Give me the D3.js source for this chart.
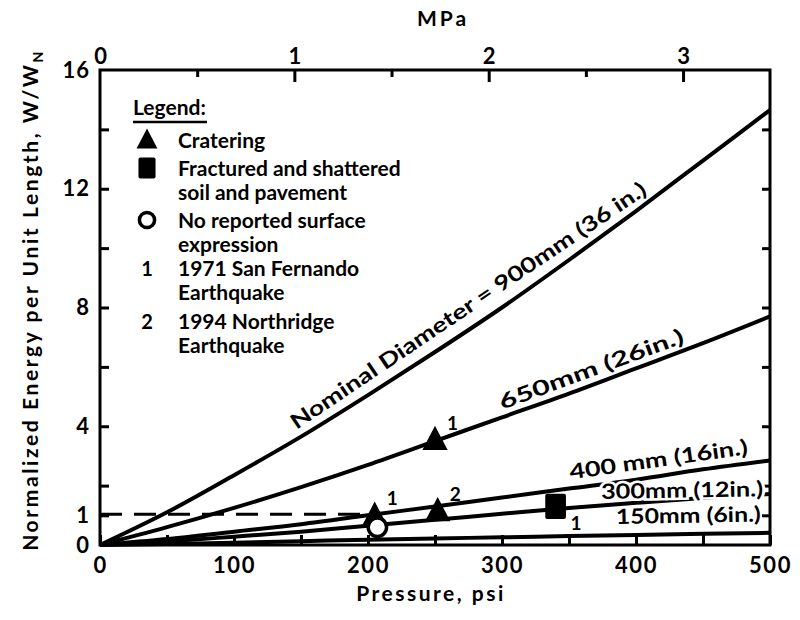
<!DOCTYPE html>
<html>
<head>
<meta charset="utf-8">
<script src="https://cdn.jsdelivr.net/npm/d3@7"></script>
<style>
  html, body { margin: 0; padding: 0; background: #fff; }
  svg text { font-family: "Lato", "DejaVu Sans", sans-serif; fill: #000; font-weight: 700; }
</style>
</head>
<body>
<svg id="chart" width="800" height="620"></svg>
<script>
// pressure samples (psi) shared by all curves
const psi = [0, 50, 100, 150, 200, 250, 300, 350, 400, 450, 500];

// normalized energy W/WN
const d900 = [0, 1.1, 2.35, 3.65, 5.05, 6.5, 8.0, 9.6, 11.25, 12.95, 14.65];
const d650 = [0, 0.6, 1.25, 1.95, 2.7, 3.5, 4.3, 5.1, 5.95, 6.8, 7.7];
const d400 = [0, 0.2, 0.45, 0.7, 1.0, 1.3, 1.6, 1.9, 2.2, 2.55, 2.85];
const d300 = [0, 0.12, 0.28, 0.45, 0.65, 0.85, 1.05, 1.25, 1.42, 1.58, 1.72];
const d150 = [0, 0.03, 0.08, 0.13, 0.18, 0.22, 0.26, 0.3, 0.34, 0.38, 0.41];

const curveLabels = [
  "Nominal Diameter = 900mm (36 in.)",
  "650mm (26in.)",
  "400 mm (16in.)",
  "300mm (12in.)",
  "150mm (6in.)"
];

// observed cases
const casePsi = [250, 205, 207, 252, 340];
const caseEnergy = [3.55, 1.0, 0.6, 1.15, 1.3];
const caseType = ["crater", "crater", "none", "crater", "fracture"];
const caseQuake = ["1", "1", "", "2", "1"];

const xTicks = [0, 100, 200, 300, 400, 500];
const xMinor = [50, 150, 250, 350, 450];
const yTicks = [0, 1, 4, 8, 12, 16];
const yMinor = [2, 6, 10, 14];
const mpaTicks = [0, 1, 2, 3];
const mpaMinor = [0.5, 1.5, 2.5];
const psiPerMPa = 145.038;
const dashedLevel = 1;
const dashedEnd = 200;

const legendItems = [
  { sym: "crater", lines: ["Cratering"] },
  { sym: "fracture", lines: ["Fractured and shattered", "soil and pavement"] },
  { sym: "none", lines: ["No reported surface", "expression"] },
  { sym: "1", lines: ["1971 San Fernando", "Earthquake"] },
  { sym: "2", lines: ["1994 Northridge", "Earthquake"] }
];

const svg = d3.select("#chart");
const x = d3.scaleLinear().domain([0, 500]).range([100, 770]);
const y = d3.scaleLinear().domain([0, 16]).range([545, 70]);
const xm = d3.scaleLinear().domain([0, 500 / psiPerMPa]).range([100, 770]);

const series = [d900, d650, d400, d300, d150].map((vals, i) => ({
  label: curveLabels[i],
  pts: psi.map((p, j) => [p, vals[j]])
}));

function valueAt(pts, p) {
  for (let i = 1; i < pts.length; i++) {
    if (p <= pts[i][0]) {
      const t = (p - pts[i - 1][0]) / (pts[i][0] - pts[i - 1][0]);
      return pts[i - 1][1] + t * (pts[i][1] - pts[i - 1][1]);
    }
  }
  return pts[pts.length - 1][1];
}

// frame
svg.append("rect").attr("x", x(0)).attr("y", y(16)).attr("width", x(500) - x(0)).attr("height", y(0) - y(16))
  .attr("fill", "none").attr("stroke", "#000").attr("stroke-width", 3);

// bottom axis
const axBottom = svg.append("g").attr("transform", `translate(0,${y(0)})`)
  .call(d3.axisBottom(x).tickValues(xTicks.concat(xMinor)).tickSizeInner(-10).tickSizeOuter(0).tickPadding(12)
    .tickFormat((d) => (xTicks.includes(d) ? d : "")));
axBottom.select(".domain").remove();
axBottom.selectAll("line").attr("stroke-width", 3);
axBottom.selectAll("text").attr("font-size", 22).attr("letter-spacing", 1.5).attr("font-family", "Lato").attr("font-weight", 700);

// left axis
const axLeft = svg.append("g").attr("transform", `translate(${x(0)},0)`)
  .call(d3.axisLeft(y).tickValues(yTicks.concat(yMinor)).tickSizeInner(-9).tickSizeOuter(0).tickPadding(10)
    .tickFormat((d) => (yTicks.includes(d) ? d : "")));
axLeft.select(".domain").remove();
axLeft.selectAll("line").attr("stroke-width", 3);
axLeft.selectAll(".tick").filter((d) => d === 0 || d === 16).select("line").remove();
axLeft.selectAll("text").attr("font-size", 22).attr("letter-spacing", 1).attr("font-family", "Lato").attr("font-weight", 700);

// right axis ticks
const axRight = svg.append("g").attr("transform", `translate(${x(500)},0)`)
  .call(d3.axisRight(y).tickValues([1, 2, 4, 6, 8, 10, 12, 14]).tickSizeInner(-8).tickSizeOuter(0).tickFormat(""));
axRight.select(".domain").remove();
axRight.selectAll("line").attr("stroke-width", 3);

// top axis (MPa)
const axTop = svg.append("g").attr("transform", `translate(0,${y(16)})`)
  .call(d3.axisTop(xm).tickValues(mpaTicks.concat(mpaMinor)).tickSizeInner(-12).tickSizeOuter(0).tickPadding(6)
    .tickFormat((d) => (mpaTicks.includes(d) ? d : "")));
axTop.select(".domain").remove();
axTop.selectAll("line").attr("stroke-width", 3);
axTop.selectAll(".tick").filter((d) => mpaMinor.includes(d)).select("line").attr("y2", 7);
axTop.selectAll(".tick").filter((d) => d === 0).select("line").remove();
axTop.selectAll("text").attr("font-size", 22).attr("font-family", "Lato").attr("font-weight", 700);

// axis titles
svg.append("text").attr("x", 443).attr("y", 26).attr("text-anchor", "middle")
  .attr("font-size", 21).attr("letter-spacing", 3).text("MPa");
svg.append("text").attr("x", 431).attr("y", 601).attr("text-anchor", "middle")
  .attr("font-size", 21).attr("letter-spacing", 2.5).text("Pressure, psi");
const yt = svg.append("text").attr("transform", "translate(38,300) rotate(-90)")
  .attr("text-anchor", "middle").attr("font-size", 21).attr("letter-spacing", 2.6);
yt.append("tspan").text("Normalized Energy per Unit Length, W/W");
yt.append("tspan").attr("font-size", 14).attr("dy", 5).text("N");

// dashed reference line
svg.append("line").attr("x1", x(0)).attr("x2", x(dashedEnd)).attr("y1", y(dashedLevel) - 1).attr("y2", y(dashedLevel) - 1)
  .attr("stroke", "#000").attr("stroke-width", 3).attr("stroke-dasharray", "22 12");

// curves
const line = d3.line().x((d) => x(d[0])).y((d) => y(d[1])).curve(d3.curveMonotoneX);
svg.append("g").selectAll("path").data(series).join("path")
  .attr("d", (d) => line(d.pts)).attr("fill", "none").attr("stroke", "#000").attr("stroke-width", 4);

// curve labels
const labelSpec = [
  { from: 150, to: 400, off: 8, len: 424 },
  { from: 302, to: 440, off: 7, len: 195 },
  { from: 352, to: 485, off: 9, len: 180 },
  { from: 374, to: 494, off: 0, len: 162, flat: true },
  { from: 385, to: 495, off: 0, len: 145, flat: true }
];
const fixedBase = { 3: 499, 4: 524 };
series.forEach((s, i) => {
  const sp = labelSpec[i];
  const x0 = x(sp.from), x1 = x(sp.to);
  let y0 = y(valueAt(s.pts, sp.from)), y1 = y(valueAt(s.pts, sp.to));
  let ang = Math.atan2(y1 - y0, x1 - x0) * 180 / Math.PI;
  if (sp.flat) { ang = -1; y0 = fixedBase[i]; }
  const t = svg.append("text")
    .attr("transform", `translate(${x0},${y0}) rotate(${ang}) translate(0,${-sp.off})`)
    .attr("font-size", 21)
    .attr("textLength", sp.len).attr("lengthAdjust", "spacingAndGlyphs")
    .text(s.label);
  if (i === 3) t.attr("stroke", "#fff").attr("stroke-width", 5).attr("paint-order", "stroke");
});

// marker shapes, centred on (cx, cy)
function drawShape(g, type, cx, cy, size) {
  if (type === "crater") {
    g.append("path").attr("d", `M${cx},${cy - size * 0.6}L${cx + size * 0.55},${cy + size * 0.45}L${cx - size * 0.55},${cy + size * 0.45}Z`)
      .attr("fill", "#000");
  } else if (type === "fracture") {
    g.append("rect").attr("x", cx - size * 0.45).attr("y", cy - size * 0.55).attr("width", size * 0.9).attr("height", size * 1.1)
      .attr("rx", 2).attr("fill", "#000");
  } else if (type === "none") {
    g.append("circle").attr("cx", cx).attr("cy", cy).attr("r", size * 0.4)
      .attr("fill", "#fff").attr("stroke", "#000").attr("stroke-width", 3.5);
  }
}

const marks = svg.append("g");
casePsi.forEach((p, i) => {
  const cx = x(p), cy = y(caseEnergy[i]);
  drawShape(marks, caseType[i], cx, cy, 23);
  if (caseQuake[i]) {
    const below = caseType[i] === "fracture";
    marks.append("text").attr("x", cx + (below ? 15 : 12)).attr("y", below ? cy + 24 : cy - 10)
      .attr("font-size", 19).text(caseQuake[i]);
  }
});

// legend
const lg = svg.append("g");
lg.append("text").attr("x", 133).attr("y", 115).attr("font-size", 21).text("Legend:");
lg.append("line").attr("x1", 133).attr("x2", 207).attr("y1", 122).attr("y2", 122).attr("stroke", "#000").attr("stroke-width", 2.5);
const legendBase = [148, 176, 228, 276, 329];
legendItems.forEach((it, i) => {
  const by = legendBase[i];
  if (it.sym.length === 1) {
    lg.append("text").attr("x", 147).attr("y", by).attr("text-anchor", "middle").attr("font-size", 20).text(it.sym);
  } else {
    drawShape(lg, it.sym, 147, by - 8, 19);
  }
  it.lines.forEach((ln, k) => {
    lg.append("text").attr("x", 178).attr("y", by + k * 24).attr("font-size", 21).text(ln);
  });
});
</script>
</body>
</html>
